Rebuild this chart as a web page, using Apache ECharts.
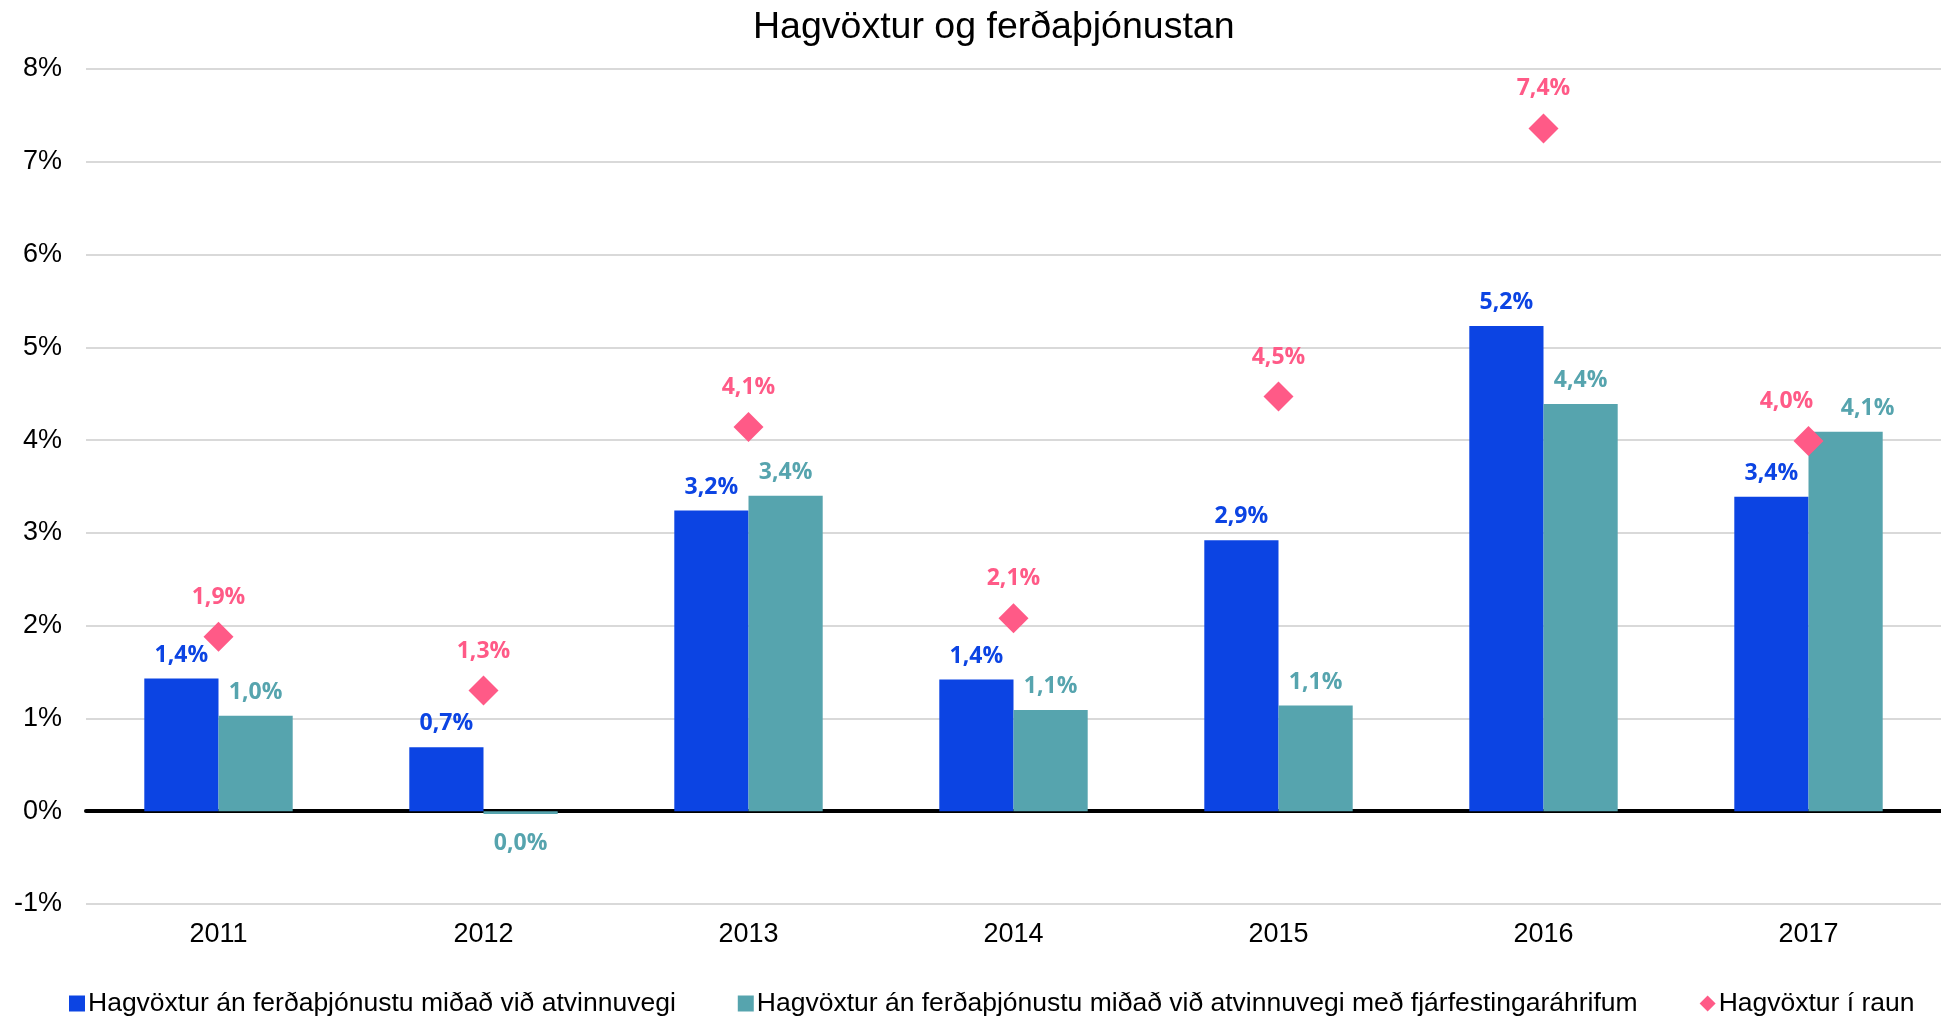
<!DOCTYPE html>
<html>
<head>
<meta charset="utf-8">
<script src="https://cdn.jsdelivr.net/npm/echarts@6/dist/echarts.min.js"></script>
<style>
html,body{margin:0;padding:0;background:#fff;}
#chart{width:1941px;height:1016px;}
</style>
</head>
<body>
<div id="chart"></div>
<script>
const categories = ['2011','2012','2013','2014','2015','2016','2017'];
const seriesNames = [
  'Hagvöxtur án ferðaþjónustu miðað við atvinnuvegi',
  'Hagvöxtur án ferðaþjónustu miðað við atvinnuvegi með fjárfestingaráhrifum',
  'Hagvöxtur í raun'
];
const blueValues = [1.43, 0.69, 3.24, 1.42, 2.92, 5.23, 3.39];
const tealValues = [1.03, -0.03, 3.40, 1.09, 1.14, 4.39, 4.09];
const pinkValues = [1.88, 1.30, 4.14, 2.08, 4.47, 7.36, 3.99];
const yTicks = [-1, 0, 1, 2, 3, 4, 5, 6, 7, 8];

const BLUE = '#0c44e3', TEAL = '#56a4ae', PINK = '#ff5a87';
const FONT = '"Liberation Sans", Arial, sans-serif';
const LFONT = '"Open Sans", "Noto Sans", sans-serif';
// label nudges to avoid overlaps (styling only)
const tealLabelShift = {6: [22, 0]};
const pinkLabelShift = {6: [-22, 0]};

function fmt(v){ return (Math.round(v*10)/10).toFixed(1).replace('.', ',') + '%'; }
function barData(vals, shifts){
  return vals.map((v, i) => {
    const item = {value: v};
    const lab = {};
    if (v < 0) { lab.position = 'bottom'; lab.distance = 18; }
    if (shifts && shifts[i]) lab.offset = shifts[i];
    if (Object.keys(lab).length) item.label = lab;
    return item;
  });
}

const chart = echarts.init(document.getElementById('chart'), null, {renderer: 'canvas'});
chart.setOption({
  animation: false,
  backgroundColor: '#fff',
  title: {
    text: 'Hagvöxtur og ferðaþjónustan',
    left: 748, top: 4,
    textStyle: {fontFamily: FONT, fontSize: 37.5, fontWeight: 'normal', color: '#000'}
  },
  grid: {left: 86, right: 0, top: 69, bottom: 112, containLabel: false},
  legend: {
    left: 64, top: 985, width: 1877,
    itemWidth: 16, itemHeight: 16, itemGap: 62,
    textStyle: {fontFamily: FONT, fontSize: 26.5, color: '#000', padding: [0,0,0,-2]},
    data: [
      {name: seriesNames[0], icon: 'rect'},
      {name: seriesNames[1], icon: 'rect'},
      {name: seriesNames[2], icon: 'diamond'}
    ]
  },
  xAxis: {
    type: 'category',
    data: categories,
    axisLine: {onZero: true, lineStyle: {color: '#000', width: 4}},
    axisTick: {show: false},
    axisLabel: {fontFamily: FONT, fontSize: 27, color: '#000', margin: 17}
  },
  yAxis: {
    type: 'value',
    min: yTicks[0], max: yTicks[yTicks.length-1], interval: 1,
    axisLine: {show: false},
    axisTick: {show: false},
    splitLine: {lineStyle: {color: '#d9d9d9', width: 2}},
    axisLabel: {fontFamily: FONT, fontSize: 27, color: '#000', margin: 24,
      formatter: v => v + '%'}
  },
  series: [
    {
      name: seriesNames[0], type: 'bar', data: barData(blueValues),
      barGap: '0%', barCategoryGap: '44%',
      itemStyle: {color: BLUE},
      label: {show: true, position: 'top', distance: 12, formatter: p => fmt(p.value),
        fontFamily: LFONT, fontWeight: 'bold', fontSize: 23, color: BLUE}
    },
    {
      name: seriesNames[1], type: 'bar', data: barData(tealValues, tealLabelShift),
      barGap: '0%', barCategoryGap: '44%',
      itemStyle: {color: TEAL},
      label: {show: true, position: 'top', distance: 12, formatter: p => fmt(p.value),
        fontFamily: LFONT, fontWeight: 'bold', fontSize: 23, color: TEAL}
    },
    {
      name: seriesNames[2], type: 'scatter',
      data: pinkValues.map((v, i) => pinkLabelShift[i] ? {value: v, label: {offset: pinkLabelShift[i]}} : v),
      symbol: 'diamond', symbolSize: 30,
      itemStyle: {color: PINK, opacity: 1},
      z: 5,
      label: {show: true, position: 'top', distance: 13, formatter: p => fmt(p.value),
        fontFamily: LFONT, fontWeight: 'bold', fontSize: 23, color: PINK}
    }
  ]
});
</script>
</body>
</html>
